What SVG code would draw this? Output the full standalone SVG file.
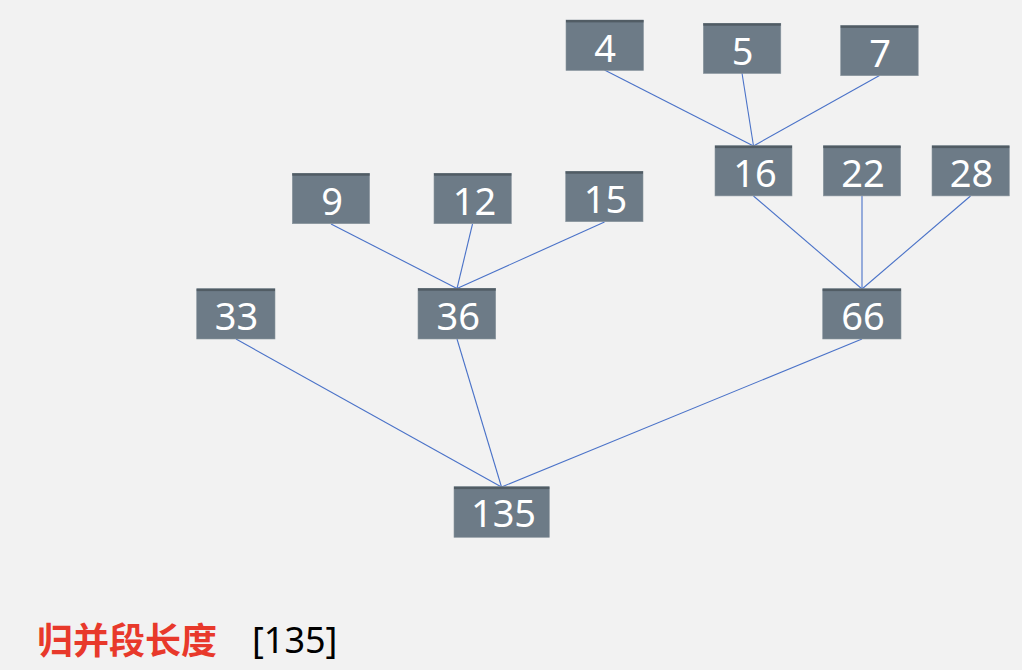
<svg xmlns="http://www.w3.org/2000/svg" width="1022" height="670" viewBox="0 0 1022 670">
<style>
.box{fill:#6d7b87;stroke:#8a969f;stroke-width:0.6}
.top{fill:#515c64}
.num{font-family:"Noto Sans","Open Sans","DejaVu Sans",sans-serif;font-size:38px;fill:#ffffff;text-anchor:middle}
.edge{stroke:#4a72c8;stroke-width:1.1;fill:none}
.lbl{font-family:"Noto Sans CJK SC","Noto Sans",sans-serif;font-size:36px;fill:#e8392b;font-weight:bold}
.val{font-family:"Noto Sans","Liberation Sans",sans-serif;font-size:36px;fill:#000000}
</style>
<rect width="1022" height="670" fill="#f2f2f2"/>
<g id="connectors">
<line class="edge" x1="604.5" y1="70" x2="753.5" y2="146"/>
<line class="edge" x1="742" y1="73" x2="753.5" y2="146"/>
<line class="edge" x1="879.5" y1="75.5" x2="753.5" y2="146"/>
<line class="edge" x1="753.5" y1="196" x2="862" y2="289"/>
<line class="edge" x1="862" y1="196" x2="862" y2="289"/>
<line class="edge" x1="970.5" y1="196" x2="862" y2="289"/>
<line class="edge" x1="331" y1="224" x2="457" y2="288.5"/>
<line class="edge" x1="472.5" y1="224" x2="457" y2="288.5"/>
<line class="edge" x1="604.5" y1="222" x2="457" y2="288.5"/>
<line class="edge" x1="236" y1="339" x2="501.5" y2="487"/>
<line class="edge" x1="457" y1="339" x2="501.5" y2="487"/>
<line class="edge" x1="862" y1="339" x2="501.5" y2="487"/>
</g>
<g id="n4"><rect class="box" x="566" y="20" width="77.5" height="50.5"/><rect class="top" x="566" y="20" width="77.5" height="2.4"/><text class="num" x="605" y="61.5">4</text></g>
<g id="n5"><rect class="box" x="703.3" y="23.3" width="77.5" height="50.2"/><rect class="top" x="703.3" y="23.3" width="77.5" height="2.4"/><text class="num" x="742.5" y="64.8">5</text></g>
<g id="n7"><rect class="box" x="840.7" y="25.5" width="77.5" height="50.2"/><rect class="top" x="840.7" y="25.5" width="77.5" height="2.4"/><text class="num" x="880" y="67">7</text></g>
<g id="n16"><rect class="box" x="715" y="145.7" width="77" height="50.2"/><rect class="top" x="715" y="145.7" width="77" height="2.4"/><text class="num" x="755" y="187.2">16</text></g>
<g id="n22"><rect class="box" x="823.3" y="145.7" width="77.3" height="50.2"/><rect class="top" x="823.3" y="145.7" width="77.3" height="2.4"/><text class="num" x="863" y="187.2">22</text></g>
<g id="n28"><rect class="box" x="932" y="145.7" width="77.3" height="50.2"/><rect class="top" x="932" y="145.7" width="77.3" height="2.4"/><text class="num" x="971.5" y="187.2">28</text></g>
<g id="n9"><rect class="box" x="292.3" y="173.3" width="77.3" height="50.4"/><rect class="top" x="292.3" y="173.3" width="77.3" height="2.4"/><text class="num" x="332" y="215">9</text></g>
<g id="n12"><rect class="box" x="434" y="173.3" width="77.3" height="50.4"/><rect class="top" x="434" y="173.3" width="77.3" height="2.4"/><text class="num" x="474.5" y="215">12</text></g>
<g id="n15"><rect class="box" x="565.7" y="171.3" width="77.3" height="50.4"/><rect class="top" x="565.7" y="171.3" width="77.3" height="2.4"/><text class="num" x="605.5" y="213">15</text></g>
<g id="n33"><rect class="box" x="196.7" y="288.7" width="78.3" height="50.3"/><rect class="top" x="196.7" y="288.7" width="78.3" height="2.4"/><text class="num" x="236.5" y="330">33</text></g>
<g id="n36"><rect class="box" x="418" y="288.3" width="77.7" height="50.7"/><rect class="top" x="418" y="288.3" width="77.7" height="2.4"/><text class="num" x="458.3" y="330">36</text></g>
<g id="n66"><rect class="box" x="822.7" y="288.7" width="78.3" height="50.3"/><rect class="top" x="822.7" y="288.7" width="78.3" height="2.4"/><text class="num" x="863" y="330">66</text></g>
<g id="n135"><rect class="box" x="454" y="486.7" width="95.3" height="50.6"/><rect class="top" x="454" y="486.7" width="95.3" height="2.4"/><text class="num" x="503.5" y="527">135</text></g>
<g id="caption"><text class="lbl" x="37" y="654">归并段长度</text><text class="val" x="252" y="653">[135]</text></g>
</svg>
